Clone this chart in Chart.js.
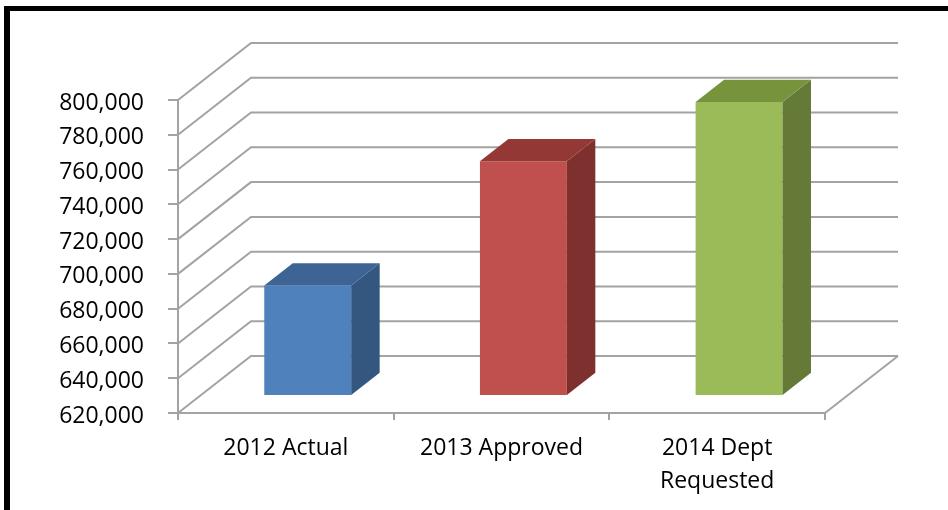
<!DOCTYPE html>
<html>
<head>
<meta charset="utf-8">
<script src="https://cdn.jsdelivr.net/npm/chart.js@4"></script>
<style>
  html, body { margin: 0; padding: 0; background: #fff; }
  #wrap { position: relative; width: 948px; height: 510px; overflow: hidden; }
  #frame { position: absolute; left: 4px; top: 6px; width: 1000px; height: 600px;
           border-left: 6px solid #000; border-top: 5px solid #000; }
  #chart { position: absolute; left: 0; top: 0; }
</style>
</head>
<body>
<div id="wrap">
  <div id="frame"></div>
  <canvas id="chart" width="948" height="510"></canvas>
</div>
<script>
// chart data
const categories = ['2012 Actual', '2013 Approved', ['2014 Dept', 'Requested']];
const budget = [683500, 755000, 789000];
const yMin = 620000;
const yMax = 800000;
const yStep = 20000;

// colours for the faces of each column
const frontColors = ['#4F81BD', '#C0504D', '#9BBB59'];
const topColors = ['#3D6494', '#943836', '#77933C'];
const sideColors = ['#34577F', '#7E302E', '#667A37'];
const GRID = '#a3a3a3';

// depth of the 3d box (floor and walls) and where the columns sit in it
const DX = 73, DY = -57;
const COL_OFF = 0.3, COL_DEPTH = 0.39;

const depth3d = {
  id: 'depth3d',
  beforeDatasetsDraw(chart) {
    const { ctx, chartArea: a, scales: { y } } = chart;
    ctx.save();
    ctx.strokeStyle = GRID;
    ctx.lineWidth = 2;
    // side wall and back wall grid lines
    y.ticks.forEach(t => {
      const py = y.getPixelForValue(t.value);
      ctx.beginPath();
      ctx.moveTo(a.left, py);
      ctx.lineTo(a.left + DX, py + DY);
      ctx.lineTo(a.right + DX, py + DY);
      ctx.stroke();
    });
    // right edge of the floor
    ctx.beginPath();
    ctx.moveTo(a.right, a.bottom);
    ctx.lineTo(a.right + DX, a.bottom + DY);
    ctx.stroke();
    ctx.restore();

    // front faces are pushed back into the box
    ctx.save();
    ctx.translate(DX * COL_OFF, DY * COL_OFF);
  },
  afterDatasetsDraw(chart) {
    const { ctx } = chart;
    ctx.restore();
    const ox = DX * COL_OFF, oy = DY * COL_OFF;
    const bx = DX * COL_DEPTH, by = DY * COL_DEPTH;
    const meta = chart.getDatasetMeta(0);
    ctx.save();
    meta.data.forEach((bar, i) => {
      const p = bar.getProps(['x', 'y', 'base', 'width'], true);
      const l = p.x - p.width / 2 + ox, r = p.x + p.width / 2 + ox;
      const t = p.y + oy, b = p.base + oy;
      // side
      ctx.fillStyle = sideColors[i];
      ctx.beginPath();
      ctx.moveTo(r, t);
      ctx.lineTo(r + bx, t + by);
      ctx.lineTo(r + bx, b + by);
      ctx.lineTo(r, b);
      ctx.closePath();
      ctx.fill();
      // top
      ctx.fillStyle = topColors[i];
      ctx.beginPath();
      ctx.moveTo(l, t);
      ctx.lineTo(l + bx, t + by);
      ctx.lineTo(r + bx, t + by);
      ctx.lineTo(r, t);
      ctx.closePath();
      ctx.fill();
    });
    ctx.restore();
  }
};

const xFont = { family: "'Open Sans', sans-serif", size: 23, lineHeight: 1.43 };
const yFont = { family: "'Open Sans', sans-serif", size: 23, lineHeight: 1.2 };

new Chart(document.getElementById('chart'), {
  type: 'bar',
  data: {
    labels: categories,
    datasets: [{
      data: budget,
      base: yMin,
      backgroundColor: frontColors,
      borderWidth: 0,
      barPercentage: 0.403,
      categoryPercentage: 1
    }]
  },
  options: {
    responsive: false,
    animation: false,
    layout: { padding: { left: 0, top: 100, right: 123, bottom: 0 } },
    plugins: { legend: { display: false }, tooltip: { enabled: false } },
    scales: {
      x: {
        afterFit: s => { s.height = 97; },
        grid: { offset: true, drawOnChartArea: false, tickLength: 7, color: GRID, lineWidth: 2 },
        border: { color: GRID, width: 2 },
        ticks: { font: xFont, color: '#000', padding: 12, maxRotation: 0, autoSkip: false }
      },
      y: {
        min: yMin,
        max: yMax,
        beginAtZero: false,
        afterFit: s => { s.width = 178; },
        grid: { drawOnChartArea: false, tickLength: 10, color: GRID, lineWidth: 2 },
        border: { color: GRID, width: 2 },
        ticks: {
          stepSize: yStep,
          autoSkip: false,
          font: yFont,
          color: '#000',
          padding: 24,
          labelOffset: 3,
          callback: v => v.toLocaleString('en-US')
        }
      }
    }
  },
  plugins: [depth3d]
});
</script>
</body>
</html>
